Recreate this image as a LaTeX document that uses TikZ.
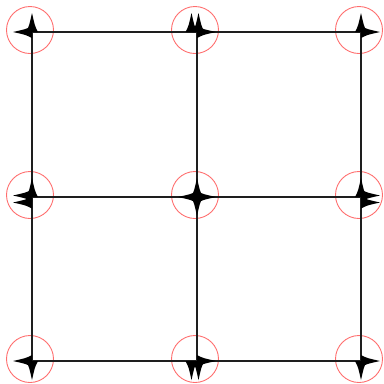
\documentclass[tikz,border=0pt]{standalone}
\begin{document}
\begin{tikzpicture}[x=1pt,y=-1pt,
  gridline/.style={draw={rgb,255:red,30;green,30;blue,30},line width=1.4pt},
  ring/.style={circle,draw={rgb,255:red,255;green,110;blue,110},line width=0.9pt,minimum size=47pt,inner sep=0pt},
  arm/.pic={\fill[black] (0,0) -- (0,6) .. controls (6,2.9) .. (19,0) .. controls (6,-2.9) .. (0,-6) -- cycle;}]
\useasboundingbox (0,0) rectangle (384,384);
% grid points
\coordinate (p00) at (32,32);   \coordinate (p10) at (197,32);   \coordinate (p20) at (361,32);
\coordinate (p01) at (32,197);  \coordinate (p11) at (197,197);  \coordinate (p21) at (361,197);
\coordinate (p02) at (32,361);  \coordinate (p12) at (197,361);  \coordinate (p22) at (361,361);
% rings
\foreach \n in {00,10,20,01,11,21,02,12,22}
  \node[ring] (r\n) at ([shift={(-2,-2)}]p\n) {};
% edges
\draw[gridline] (p00) -- (p10); \draw[gridline] (p10) -- (p20);
\draw[gridline] (p01) -- (p11); \draw[gridline] (p11) -- (p21);
\draw[gridline] (p02) -- (p12); \draw[gridline] (p12) -- (p22);
\draw[gridline] (p00) -- (p01); \draw[gridline] (p01) -- (p02);
\draw[gridline] (p10) -- (p11); \draw[gridline] (p11) -- (p12);
\draw[gridline] (p20) -- (p21); \draw[gridline] (p21) -- (p22);
% arrowheads
% top-left
\pic[rotate=180] at (p00) {arm}; \pic[rotate=90] at (p00) {arm};
% top-middle
\pic[rotate=90] at ([xshift=-5.5]p10) {arm}; \pic[rotate=90] at ([xshift=1.5]p10) {arm};
\pic[rotate=0] at (p10) {arm};
% top-right
\pic[rotate=90] at (p20) {arm}; \pic[rotate=0] at (p20) {arm};
% middle-left
\pic[rotate=180] at ([yshift=-5.5]p01) {arm}; \pic[rotate=180] at ([yshift=1.5]p01) {arm};
\pic[rotate=90] at (p01) {arm};
% centre
\pic[rotate=0] at (p11) {arm}; \pic[rotate=90] at (p11) {arm};
\pic[rotate=180] at (p11) {arm}; \pic[rotate=270] at (p11) {arm};
% middle-right
\pic[rotate=0] at ([yshift=-5.5]p21) {arm}; \pic[rotate=0] at ([yshift=1.5]p21) {arm};
\pic[rotate=90] at (p21) {arm};
% bottom-left
\pic[rotate=180] at (p02) {arm}; \pic[rotate=270] at (p02) {arm};
% bottom-middle
\pic[rotate=270] at ([xshift=-5.5]p12) {arm}; \pic[rotate=270] at ([xshift=1.5]p12) {arm};
\pic[rotate=0] at (p12) {arm};
% bottom-right
\pic[rotate=0] at (p22) {arm}; \pic[rotate=270] at (p22) {arm};
\end{tikzpicture}
\end{document}
